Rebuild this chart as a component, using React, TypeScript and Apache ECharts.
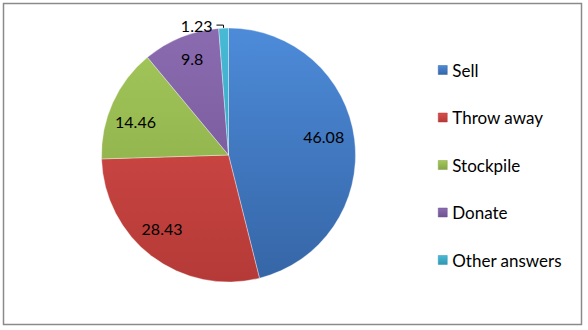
import React, { useEffect, useRef } from "react";
import * as echarts from "echarts";

const categories = ["Sell", "Throw away", "Stockpile", "Donate", "Other answers"];
const values = [46.08, 28.43, 14.46, 9.8, 1.23];
const topColors = ["#4d8bd9", "#d94e4b", "#a3c85a", "#8a6bb0", "#48bad6"];
const bottomColors = ["#3565a6", "#b53a37", "#86a546", "#6f5390", "#2f97b2"];
const labelOffsets = [[-6, -6], [-5, -8], [0, 8], [2, -2], [0, 0]];

const grad = (i: number, global: boolean) =>
  global
    ? new echarts.graphic.LinearGradient(0, 28, 0, 282, [
        { offset: 0, color: topColors[i] },
        { offset: 1, color: bottomColors[i] },
      ], true)
    : new echarts.graphic.LinearGradient(0, 0, 0, 1, [
        { offset: 0, color: topColors[i] },
        { offset: 1, color: bottomColors[i] },
      ]);

export default function App() {
  const ref = useRef<HTMLDivElement>(null);
  useEffect(() => {
    document.body.style.margin = "0";
    const chart = echarts.init(ref.current!, null, { renderer: "svg" });
    const font = "Lato, 'Open Sans', sans-serif";
    chart.setOption({
      animation: false,
      backgroundColor: "#ffffff",
      graphic: [
        {
          type: "rect",
          shape: { x: 3.5, y: 3.5, width: 578, height: 321 },
          style: { fill: "none", stroke: "#8a8a8a", lineWidth: 1.5 },
          z: 0,
        },
      ],
      legend: {
        orient: "vertical",
        left: 433,
        top: 56,
        itemWidth: 9,
        itemHeight: 9,
        itemGap: 29.5,
        icon: "rect",
        textStyle: { fontFamily: font, fontSize: 17, color: "#000", lineHeight: 18 },
        data: categories.map((c, i) => ({
          name: c,
          itemStyle: { color: grad(i, false), borderColor: bottomColors[i], borderWidth: 0.5 },
        })),
      },
      series: [
        {
          type: "pie",
          center: [228.5, 155],
          radius: 127,
          startAngle: 90,
          clockwise: true,
          silent: true,
          label: { show: false },
          labelLine: { show: false },
          itemStyle: { borderColor: "rgba(255,255,255,0.35)", borderWidth: 1 },
          data: categories.map((c, i) => ({
            name: c,
            value: values[i],
            itemStyle: { color: grad(i, true) },
          })),
        },
        {
          type: "pie",
          center: [228.5, 155],
          radius: [71, 127],
          startAngle: 90,
          clockwise: true,
          silent: true,
          itemStyle: { color: "rgba(0,0,0,0)" },
          label: {
            show: true,
            position: "inside",
            fontFamily: font,
            fontSize: 16,
            color: "#000",
            formatter: (p: any) => String(p.value),
          },
          labelLine: { show: false },
          data: categories.map((c, i) =>
            i === 4
              ? {
                  name: c,
                  value: values[i],
                  label: { position: "outside", distanceToLabelLine: 4 },
                  labelLine: { show: true, length: 3, length2: 7, lineStyle: { color: "#000", width: 1 } },
                }
              : { name: c, value: values[i], label: { offset: labelOffsets[i] } }
          ),
        },
      ],
    });
    return () => chart.dispose();
  }, []);
  return <div ref={ref} style={{ width: 588, height: 330 }} />;
}
